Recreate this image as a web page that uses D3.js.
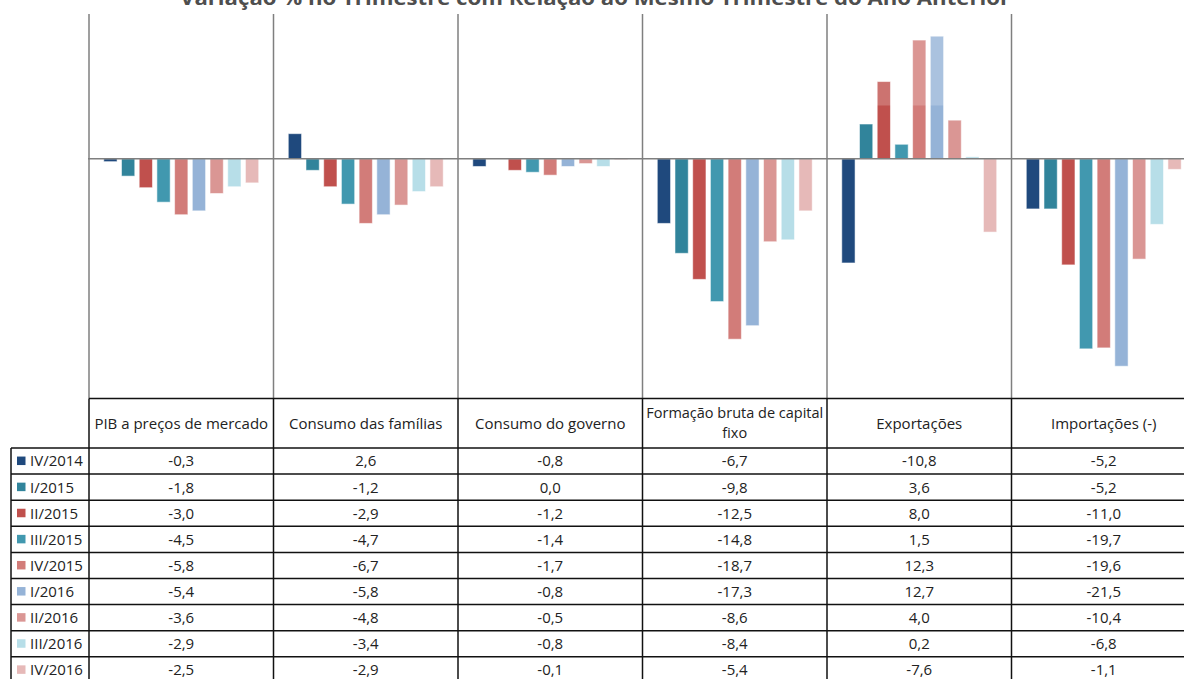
<!DOCTYPE html>
<html>
<head>
<meta charset="utf-8">
<script src="https://cdn.jsdelivr.net/npm/d3@7"></script>
<style>
  html, body { margin: 0; padding: 0; background: #fff; }
  svg { display: block; font-family: "Open Sans", "Liberation Sans", sans-serif; }
</style>
</head>
<body>
<svg id="chart" width="1184" height="679"></svg>
<script>
// Componentes do PIB: variação % no trimestre contra o mesmo trimestre do ano anterior
const categories = [
  "PIB a preços de mercado",
  "Consumo das famílias",
  "Consumo do governo",
  "Formação bruta de capital fixo",
  "Exportações",
  "Importações (-)"
];
const quarters = ["IV/2014", "I/2015", "II/2015", "III/2015", "IV/2015", "I/2016", "II/2016", "III/2016", "IV/2016"];

const vIV2014  = [-0.3,  2.6, -0.8,  -6.7, -10.8,  -5.2];
const vI2015   = [-1.8, -1.2,  0.0,  -9.8,   3.6,  -5.2];
const vII2015  = [-3.0, -2.9, -1.2, -12.5,   8.0, -11.0];
const vIII2015 = [-4.5, -4.7, -1.4, -14.8,   1.5, -19.7];
const vIV2015  = [-5.8, -6.7, -1.7, -18.7,  12.3, -19.6];
const vI2016   = [-5.4, -5.8, -0.8, -17.3,  12.7, -21.5];
const vII2016  = [-3.6, -4.8, -0.5,  -8.6,   4.0, -10.4];
const vIII2016 = [-2.9, -3.4, -0.8,  -8.4,   0.2,  -6.8];
const vIV2016  = [-2.5, -2.9, -0.1,  -5.4,  -7.6,  -1.1];

const seriesValues = [vIV2014, vI2015, vII2015, vIII2015, vIV2015, vI2016, vII2016, vIII2016, vIV2016];
const colors = ["#1f497d", "#31849b", "#c0504d", "#4198af", "#d27c79", "#95b3d7", "#da9694", "#b7dee8", "#e6b9b8"];

const yDomain = [-25, 15];
const title = "Variação % no Trimestre com Relação ao Mesmo Trimestre do Ano Anterior";

const fmt = v => v.toFixed(1).replace(".", ",");

const svg = d3.select("#chart");

const plotLeft = 89, colW = 184.5;
const plotRight = plotLeft + colW * categories.length;
const plotTop = 14, plotBottom = 400;
const tableTop = 398.5, headerH = 49.5, rowH = 26.1;
const labelLeft = 11;
const fontSize = 15;

const x0 = d3.scaleBand().domain(categories).range([plotLeft, plotRight]).padding(0);
const x1 = d3.scaleBand().domain(quarters).range([0, x0.bandwidth()])
  .paddingInner(0.25).paddingOuter(0.835);
const y = d3.scaleLinear().domain(yDomain).range([plotBottom, plotTop]);

// title (sits above the top of the frame)
svg.append("text")
  .attr("x", 595).attr("y", 5)
  .attr("text-anchor", "middle")
  .attr("font-weight", "bold")
  .attr("font-size", 20)
  .attr("fill", "#222")
  .attr("textLength", 830)
  .attr("lengthAdjust", "spacingAndGlyphs")
  .text(title);

// bars
const rows = quarters.map((q, i) => ({ q, i, vals: seriesValues[i] }));
const gCat = svg.append("g");
categories.forEach((c, ci) => {
  const g = gCat.append("g").attr("transform", `translate(${x0(c)},0)`);
  g.selectAll("rect")
    .data(rows)
    .join("rect")
    .attr("x", d => x1(d.q))
    .attr("width", x1.bandwidth())
    .attr("y", d => y(Math.max(0, d.vals[ci])))
    .attr("height", d => Math.abs(y(d.vals[ci]) - y(0)))
    .attr("fill", d => colors[d.i])
    .attr("stroke", d => d.vals[ci] === 0 ? "none" : "#ffffff")
    .attr("stroke-opacity", 0.55)
    .attr("stroke-width", 1);
});

// light haze over the upper band of the bars
svg.append("rect")
  .attr("x", plotLeft).attr("y", 0).attr("width", plotRight - plotLeft).attr("height", 105.5)
  .attr("fill", "#ffffff").attr("fill-opacity", 0.2);

// category separators in the plot area
svg.append("g").selectAll("line")
  .data(categories.map(c => x0(c)).concat([plotRight]))
  .join("line")
  .attr("x1", d => d).attr("x2", d => d)
  .attr("y1", plotTop).attr("y2", tableTop)
  .attr("stroke", "#7f7f7f").attr("stroke-width", 1.5);

// zero line
svg.append("line")
  .attr("x1", plotLeft - 1).attr("x2", plotRight)
  .attr("y1", y(0)).attr("y2", y(0))
  .attr("stroke", "#7f7f7f").attr("stroke-width", 1.5);

// data table
const tbl = svg.append("g");
const lineColor = "#111";
const tableBottom = tableTop + headerH + rowH * quarters.length;

// header row
tbl.append("line").attr("x1", plotLeft).attr("x2", plotRight)
  .attr("y1", tableTop).attr("y2", tableTop)
  .attr("stroke", lineColor).attr("stroke-width", 1.5);
categories.concat([null]).forEach((c, i) => {
  const xx = plotLeft + i * colW;
  tbl.append("line").attr("x1", xx).attr("x2", xx)
    .attr("y1", tableTop).attr("y2", tableBottom)
    .attr("stroke", lineColor).attr("stroke-width", 1.5);
});
// row label column left border
tbl.append("line").attr("x1", labelLeft).attr("x2", labelLeft)
  .attr("y1", tableTop + headerH).attr("y2", tableBottom)
  .attr("stroke", lineColor).attr("stroke-width", 1.5);

// horizontal row lines
d3.range(quarters.length + 1).forEach(k => {
  const yy = tableTop + headerH + k * rowH;
  tbl.append("line").attr("x1", labelLeft).attr("x2", plotRight)
    .attr("y1", yy).attr("y2", yy)
    .attr("stroke", lineColor).attr("stroke-width", 1.5);
});

// header texts, wrapping long names
const headerLines = {
  "Formação bruta de capital fixo": ["Formação bruta de capital", "fixo"]
};
categories.forEach(c => {
  const cx = x0(c) + colW / 2;
  const lines = headerLines[c] || [c];
  const lh = 20;
  const cy = tableTop + headerH / 2;
  lines.forEach((t, li) => {
    tbl.append("text")
      .attr("x", cx)
      .attr("y", cy + (li - (lines.length - 1) / 2) * lh)
      .attr("dy", "0.35em")
      .attr("text-anchor", "middle")
      .attr("font-size", c in headerLines ? 14.5 : fontSize)
      .attr("fill", "#222")
      .text(t);
  });
});

// legend keys + values
quarters.forEach((q, i) => {
  const top = tableTop + headerH + i * rowH;
  const cy = top + rowH / 2;
  tbl.append("rect")
    .attr("x", 17).attr("y", cy - 4.5).attr("width", 8.5).attr("height", 8.5)
    .attr("fill", colors[i]);
  tbl.append("text")
    .attr("x", 30).attr("y", cy).attr("dy", "0.36em")
    .attr("font-size", fontSize).attr("fill", "#222")
    .text(q);
  categories.forEach((c, ci) => {
    tbl.append("text")
      .attr("x", x0(c) + colW / 2).attr("y", cy).attr("dy", "0.36em")
      .attr("text-anchor", "middle")
      .attr("font-size", fontSize).attr("fill", "#222")
      .text(fmt(seriesValues[i][ci]));
  });
});
</script>
</body>
</html>
